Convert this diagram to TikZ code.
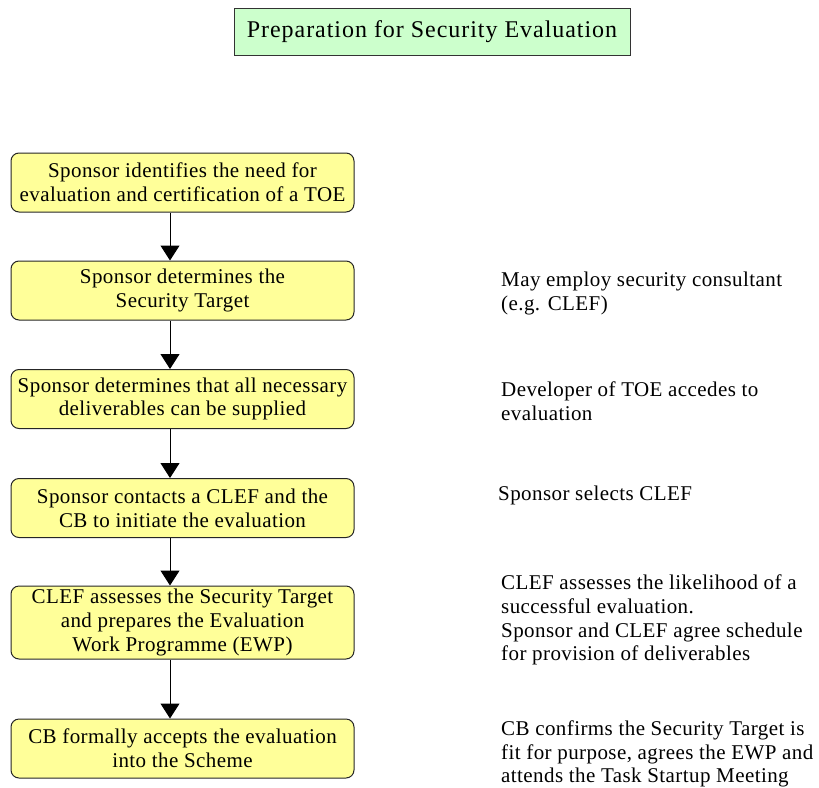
\documentclass[tikz,border=0pt]{standalone}
\usepackage{fontspec}
\setmainfont{Liberation Serif}[LetterSpace=2]
\newfontfamily\headfont{Liberation Serif}[LetterSpace=4]
\usetikzlibrary{arrows.meta}
\definecolor{boxyellow}{HTML}{FFFF99}
\definecolor{titlegreen}{HTML}{CCFFCC}
\begin{document}
\begin{tikzpicture}[x=1pt,y=-1pt,
  txt/.style={font=\rmfamily\fontsize{21}{23.7}\selectfont},
  stepbox/.style={txt, draw=black!85, line width=1pt, fill=boxyellow,
    rounded corners=8pt, minimum width=343pt, minimum height=59pt,
    align=center, inner sep=0pt},
  titlebox/.style={font=\headfont\fontsize{24}{28}\selectfont,
    draw=black!80, line width=1pt, fill=titlegreen,
    minimum width=396pt, minimum height=47pt, inner sep=0pt},
  note/.style={txt, anchor=west, align=left, inner sep=0pt},
  flow/.style={line width=1pt, -{Triangle[width=19pt,length=15pt]}}
]
\useasboundingbox (0,0) rectangle (819,787);

% heading
\node[titlebox] (title) at (432,31.5) {Preparation for Security Evaluation};

% process steps
\node[stepbox] (b1) at (182.5,182.5) {Sponsor identifies the need for\\evaluation and certification of a TOE};
\node[stepbox] (b2) at (182.5,290.5) {Sponsor determines the\\Security Target};
\node[stepbox] (b3) at (182.5,399) {Sponsor determines that all necessary\\deliverables can be supplied};
\node[stepbox] (b4) at (182.5,508) {Sponsor contacts a CLEF and the\\CB to initiate the evaluation};
\node[stepbox, minimum height=73pt] (b5) at (182.5,622.5) {CLEF assesses the Security Target\\and prepares the Evaluation\\Work Programme (EWP)};
\node[stepbox] (b6) at (182.5,748.5) {CB formally accepts the evaluation\\into the Scheme};

% connectors, set slightly left of the box centres
\foreach \a/\b in {b1/b2,b2/b3,b3/b4,b4/b5,b5/b6}
  \draw[flow] ([xshift=-12.5pt]\a.south) -- ([xshift=-12.5pt]\b.north);

% side notes
\node[note] (n2) at (501,293.5) {May employ security consultant\\(e.g. CLEF)};
\node[note] (n3) at (501,401.5) {Developer of TOE accedes to\\evaluation};
\node[note] (n4) at (498,495) {Sponsor selects CLEF};
\node[note] (n5) at (501,620) {CLEF assesses the likelihood of a\\successful evaluation.\\Sponsor and CLEF agree schedule\\for provision of deliverables};
\node[note] (n6) at (501,754) {CB confirms the Security Target is\\fit for purpose, agrees the EWP and\\attends the Task Startup Meeting};
\end{tikzpicture}
\end{document}
